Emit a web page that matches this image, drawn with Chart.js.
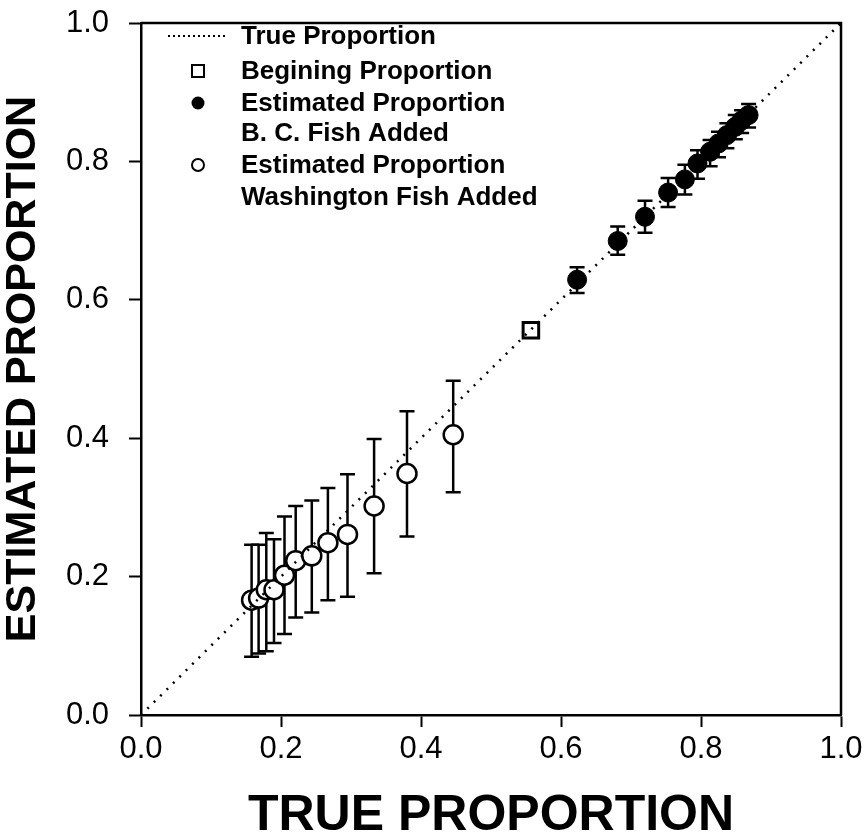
<!DOCTYPE html>
<html>
<head>
<meta charset="utf-8">
<script src="https://cdn.jsdelivr.net/npm/chart.js@4.4.1/dist/chart.umd.min.js"></script>
<style>
html, body { margin: 0; padding: 0; background: #fff; }
canvas { display: block; }
</style>
</head>
<body>
<canvas id="chart" width="867" height="836"></canvas>
<script>
"use strict";

const kFont = "'Liberation Sans', Arial, Helvetica, sans-serif";

// 1:1 reference line
const trueLine = [0, 1];

// starting point
const beginX = [0.557];
const beginY = [0.556];

// B. C. fish added
const bcX = [0.623, 0.681, 0.720, 0.753, 0.777, 0.795, 0.813, 0.825, 0.837, 0.849, 0.858, 0.868];
const bcY = [0.629, 0.685, 0.720, 0.755, 0.774, 0.797, 0.814, 0.826, 0.838, 0.850, 0.859, 0.867];
const bcLow = [0.610, 0.665, 0.697, 0.734, 0.752, 0.775, 0.793, 0.806, 0.819, 0.832, 0.841, 0.849];
const bcHigh = [0.647, 0.706, 0.743, 0.776, 0.795, 0.816, 0.831, 0.843, 0.855, 0.867, 0.874, 0.883];

// Washington fish added
const waX = [0.158, 0.168, 0.179, 0.190, 0.205, 0.221, 0.244, 0.267, 0.295, 0.333, 0.380, 0.446];
const waY = [0.166, 0.169, 0.181, 0.181, 0.202, 0.223, 0.230, 0.249, 0.261, 0.302, 0.349, 0.405];
const waLow = [0.084, 0.089, 0.092, 0.104, 0.117, 0.141, 0.148, 0.166, 0.171, 0.205, 0.258, 0.322];
const waHigh = [0.246, 0.246, 0.263, 0.254, 0.287, 0.302, 0.310, 0.328, 0.348, 0.399, 0.439, 0.483];

const xTicks = [0, 0.2, 0.4, 0.6, 0.8, 1.0];
const yTicks = [0, 0.2, 0.4, 0.6, 0.8, 1.0];

function toPoints(xs, ys) {
    return xs.map((x, i) => ({ x, y: ys[i] }));
}

const errorBars = {
    id: "errorBars",
    beforeDatasetsDraw(chart) {
        const { ctx } = chart;
        const yScale = chart.scales.y;
        chart.data.datasets.forEach((ds, di) => {
            if (!ds.errLow) {
                return;
            }
            const meta = chart.getDatasetMeta(di);
            ctx.save();
            ctx.strokeStyle = "#000";
            ctx.lineWidth = 2.5;
            meta.data.forEach((pt, i) => {
                const top = yScale.getPixelForValue(ds.errHigh[i]);
                const bot = yScale.getPixelForValue(ds.errLow[i]);
                ctx.beginPath();
                ctx.moveTo(pt.x, top);
                ctx.lineTo(pt.x, bot);
                ctx.moveTo(pt.x - 7.5, top);
                ctx.lineTo(pt.x + 7.5, top);
                ctx.moveTo(pt.x - 7.5, bot);
                ctx.lineTo(pt.x + 7.5, bot);
                ctx.stroke();
            });
            ctx.restore();
        });
    }
};

const frame = {
    id: "frame",
    afterDraw(chart) {
        const { ctx, chartArea: a } = chart;
        ctx.save();
        ctx.strokeStyle = "#000";
        ctx.lineWidth = 2.5;
        ctx.beginPath();
        ctx.moveTo(a.left, a.top);
        ctx.lineTo(a.right, a.top);
        ctx.lineTo(a.right, a.bottom);
        ctx.stroke();
        ctx.restore();
    }
};

const legendBox = {
    id: "legendBox",
    afterDraw(chart) {
        const { ctx, chartArea: a } = chart;
        const mx = a.left + 57;
        const tx = a.left + 100;
        ctx.save();
        ctx.fillStyle = "#000";
        ctx.strokeStyle = "#000";
        ctx.font = `bold 26px ${kFont}`;
        ctx.textBaseline = "middle";

        const rows = [
            ["True Proportion", 14],
            ["Begining Proportion", 49],
            ["Estimated Proportion", 81],
            ["B. C. Fish Added", 111],
            ["Estimated Proportion", 143],
            ["Washington Fish Added", 175]
        ];
        for (const [text, dy] of rows) {
            ctx.fillText(text, tx, a.top + dy);
        }

        // dotted sample
        ctx.lineWidth = 2;
        ctx.setLineDash([2, 3]);
        ctx.beginPath();
        ctx.moveTo(a.left + 27, a.top + 13);
        ctx.lineTo(a.left + 87, a.top + 13);
        ctx.stroke();
        ctx.setLineDash([]);

        // open square
        ctx.lineWidth = 2;
        ctx.strokeRect(mx - 6, a.top + 48 - 6, 12, 12);

        // filled circle
        ctx.beginPath();
        ctx.arc(mx, a.top + 80, 6.5, 0, Math.PI * 2);
        ctx.fill();

        // open circle
        ctx.beginPath();
        ctx.arc(mx, a.top + 142, 6, 0, Math.PI * 2);
        ctx.stroke();
        ctx.restore();
    }
};

function axisTicks(values) {
    return {
        afterBuildTicks(scale) {
            scale.ticks = values.map(value => ({ value }));
        }
    };
}

const chart = new Chart(document.getElementById("chart").getContext("2d"), {
    type: "scatter",
    data: {
        datasets: [
            {
                type: "line",
                label: "True Proportion",
                data: toPoints(trueLine, trueLine),
                borderColor: "#000",
                borderWidth: 2.5,
                borderDash: [2, 7],
                pointRadius: 0,
                fill: false
            },
            {
                label: "Estimated Proportion Washington Fish Added",
                data: toPoints(waX, waY),
                errLow: waLow,
                errHigh: waHigh,
                pointStyle: "circle",
                pointRadius: 9.5,
                pointBackgroundColor: "#fff",
                pointBorderColor: "#000",
                pointBorderWidth: 2.5
            },
            {
                label: "Estimated Proportion B. C. Fish Added",
                data: toPoints(bcX, bcY),
                errLow: bcLow,
                errHigh: bcHigh,
                pointStyle: "circle",
                pointRadius: 9.5,
                pointBackgroundColor: "#000",
                pointBorderColor: "#000",
                pointBorderWidth: 1
            },
            {
                label: "Begining Proportion",
                data: toPoints(beginX, beginY),
                pointStyle: "rect",
                pointRadius: 11,
                pointBackgroundColor: "#fff",
                pointBorderColor: "#000",
                pointBorderWidth: 3
            }
        ]
    },
    options: {
        responsive: false,
        animation: false,
        layout: {
            padding: { left: 0, right: 26, top: 23, bottom: 0 }
        },
        plugins: {
            legend: { display: false },
            tooltip: { enabled: false }
        },
        scales: {
            x: {
                type: "linear",
                min: 0,
                max: 1,
                ...axisTicks(xTicks),
                afterFit(scale) {
                    scale.height = 121;
                    scale.paddingLeft = 0;
                    scale.paddingRight = 0;
                },
                ticks: {
                    color: "#000",
                    padding: 4,
                    font: { family: kFont, size: 31 },
                    callback: v => v.toFixed(1)
                },
                grid: {
                    drawOnChartArea: false,
                    tickLength: 12,
                    tickWidth: 2,
                    tickColor: "#000"
                },
                border: { color: "#000", width: 2.5 },
                title: {
                    display: true,
                    text: "TRUE PROPORTION",
                    color: "#000",
                    padding: { top: 0, bottom: 0 },
                    font: { family: kFont, size: 50, weight: "bold", lineHeight: 0.8 }
                }
            },
            y: {
                type: "linear",
                min: 0,
                max: 1,
                ...axisTicks(yTicks),
                afterFit(scale) {
                    scale.width = 141;
                    scale.paddingTop = 0;
                    scale.paddingBottom = 0;
                },
                ticks: {
                    color: "#000",
                    padding: 20,
                    font: { family: kFont, size: 31 },
                    callback: v => v.toFixed(1)
                },
                grid: {
                    drawOnChartArea: false,
                    tickLength: 12,
                    tickWidth: 2,
                    tickColor: "#000"
                },
                border: { color: "#000", width: 2.5 },
                title: {
                    display: true,
                    text: "ESTIMATED PROPORTION",
                    color: "#000",
                    padding: { top: 2, bottom: 0 },
                    font: { family: kFont, size: 43, weight: "bold", lineHeight: 1 }
                }
            }
        }
    },
    plugins: [errorBars, frame, legendBox]
});
</script>
</body>
</html>
